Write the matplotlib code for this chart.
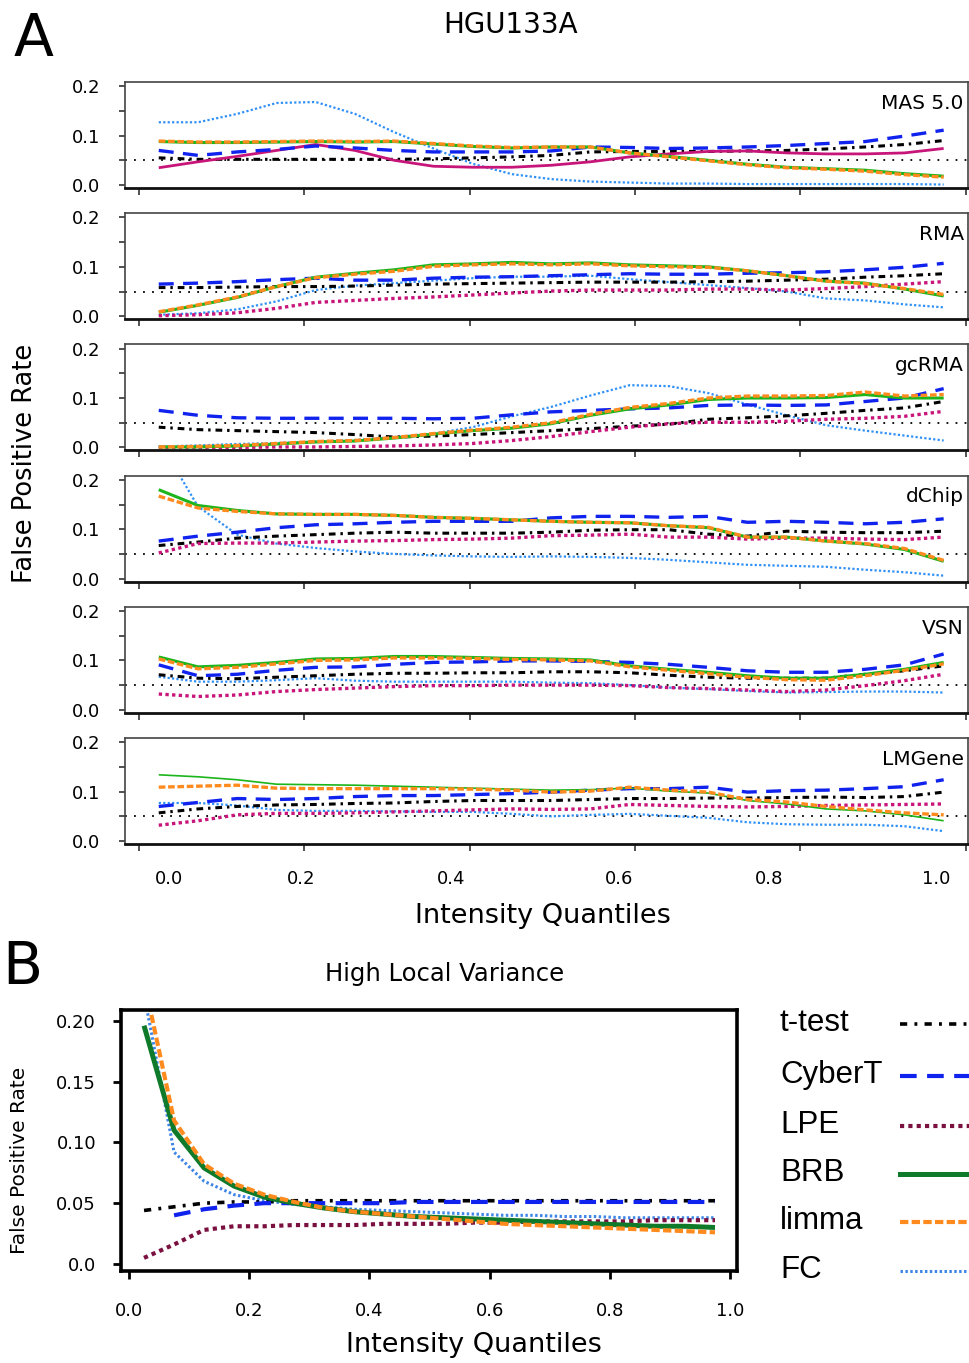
import numpy as np
import matplotlib
matplotlib.use("Agg")
import matplotlib.pyplot as plt
from matplotlib.lines import Line2D

W, H = 969, 1363
fig = plt.figure(figsize=(W / 100, H / 100), dpi=100)
plt.rcParams['font.family'] = ['DejaVu Sans']

# ---------------- data ----------------
quantiles_a = [0.00, 0.05, 0.10, 0.15, 0.20, 0.25, 0.30, 0.35, 0.40, 0.45, 0.50,
               0.55, 0.60, 0.65, 0.70, 0.75, 0.80, 0.85, 0.90, 0.95, 1.00]
quantiles_b = [0.025, 0.075, 0.125, 0.175, 0.225, 0.275, 0.325, 0.375, 0.425, 0.475,
               0.525, 0.575, 0.625, 0.675, 0.725, 0.775, 0.825, 0.875, 0.925, 0.975]
methods = ["t-test", "CyberT", "LPE", "BRB", "limma", "FC"]
panel_names = ["MAS 5.0", "RMA", "gcRMA", "dChip", "VSN", "LMGene"]

mas = {
    "t-test": [.055, .052, .052, .052, .052, .052, .052, .053, .055, .057, .060, .067, .068, .068, .068, .069, .070, .073, .077, .082, .090],
    "CyberT": [.070, .060, .067, .072, .079, .075, .070, .067, .067, .067, .069, .077, .076, .074, .075, .077, .080, .084, .088, .099, .111],
    "LPE":    [.035, .047, .058, .070, .082, .070, .050, .038, .036, .036, .040, .047, .057, .063, .068, .069, .065, .063, .063, .065, .074],
    "BRB":    [.088, .086, .086, .087, .088, .087, .088, .083, .078, .075, .077, .077, .065, .058, .050, .042, .036, .033, .030, .023, .018],
    "limma":  [.089, .087, .087, .088, .089, .088, .089, .084, .079, .076, .077, .077, .065, .057, .049, .041, .035, .032, .028, .021, .016],
    "FC":     [.127, .127, .144, .166, .168, .144, .107, .074, .043, .022, .012, .007, .005, .003, .003, .002, .002, .002, .002, .002, .001],
}
rma = {
    "t-test": [.058, .058, .059, .060, .060, .061, .063, .065, .066, .067, .068, .069, .069, .069, .070, .071, .073, .075, .079, .082, .086],
    "CyberT": [.065, .067, .070, .074, .077, .073, .073, .077, .079, .080, .082, .084, .086, .085, .085, .087, .088, .090, .094, .099, .107],
    "LPE":    [.001, .003, .007, .016, .028, .032, .036, .039, .043, .047, .051, .053, .053, .053, .055, .055, .053, .056, .060, .065, .070],
    "BRB":    [.008, .022, .038, .060, .079, .087, .094, .104, .106, .109, .106, .108, .104, .102, .100, .092, .082, .071, .067, .055, .041],
    "limma":  [.009, .023, .039, .060, .078, .085, .091, .101, .104, .106, .104, .106, .102, .100, .099, .092, .082, .071, .066, .056, .044],
    "FC":     [.003, .006, .014, .030, .053, .062, .067, .072, .077, .080, .080, .082, .075, .069, .063, .057, .050, .036, .032, .024, .018],
}
gcrma = {
    "t-test": [.041, .036, .034, .032, .030, .026, .021, .023, .026, .030, .034, .038, .043, .047, .057, .060, .064, .069, .075, .080, .093],
    "CyberT": [.075, .065, .060, .059, .059, .059, .059, .058, .059, .066, .072, .075, .078, .080, .085, .086, .085, .086, .093, .100, .119],
    "LPE":    [.000, .000, .000, .001, .001, .002, .003, .005, .008, .014, .022, .032, .041, .048, .051, .051, .053, .057, .059, .063, .073],
    "BRB":    [.001, .001, .003, .007, .011, .013, .019, .027, .034, .039, .048, .065, .078, .086, .097, .100, .100, .101, .107, .100, .100],
    "limma":  [.001, .002, .004, .008, .012, .014, .020, .028, .035, .041, .050, .067, .081, .089, .100, .104, .104, .105, .112, .104, .107],
    "FC":     [.002, .004, .007, .009, .012, .015, .021, .028, .041, .063, .082, .105, .126, .124, .110, .087, .065, .045, .034, .024, .014],
}
dchip = {
    "t-test": [.067, .074, .082, .086, .089, .092, .094, .092, .092, .092, .094, .098, .099, .099, .090, .086, .096, .094, .093, .093, .096],
    "CyberT": [.076, .086, .094, .103, .109, .111, .114, .116, .116, .116, .123, .126, .126, .124, .126, .114, .116, .114, .111, .114, .121],
    "LPE":    [.052, .071, .072, .072, .074, .076, .077, .079, .080, .082, .087, .088, .090, .084, .084, .080, .082, .082, .080, .079, .084],
    "BRB":    [.180, .148, .138, .131, .130, .130, .128, .124, .122, .119, .116, .114, .113, .107, .103, .084, .084, .076, .070, .059, .035],
    "limma":  [.167, .143, .136, .131, .130, .130, .128, .124, .122, .119, .116, .114, .113, .107, .104, .084, .084, .076, .071, .061, .037],
    "FC":     [.280, .146, .089, .071, .062, .055, .050, .047, .045, .044, .045, .044, .042, .038, .033, .028, .026, .024, .018, .013, .006],
}
vsn = {
    "t-test": [.071, .064, .063, .066, .069, .072, .074, .074, .075, .075, .077, .077, .075, .070, .066, .064, .064, .064, .072, .079, .089],
    "CyberT": [.091, .069, .072, .080, .086, .087, .092, .096, .097, .099, .099, .098, .096, .092, .086, .079, .076, .076, .082, .091, .113],
    "LPE":    [.032, .027, .030, .037, .041, .044, .047, .049, .049, .050, .050, .050, .049, .045, .043, .040, .037, .040, .049, .059, .072],
    "BRB":    [.107, .087, .090, .096, .103, .104, .108, .108, .106, .104, .103, .101, .089, .082, .076, .069, .064, .064, .072, .082, .096],
    "limma":  [.103, .083, .086, .093, .100, .101, .105, .105, .104, .102, .101, .099, .087, .080, .073, .066, .061, .060, .069, .080, .093],
    "FC":     [.067, .057, .057, .060, .064, .059, .057, .057, .057, .057, .055, .054, .050, .045, .042, .038, .035, .036, .037, .037, .035],
}
lmgene = {
    "t-test": [.057, .065, .070, .073, .074, .076, .077, .080, .082, .082, .082, .084, .086, .086, .087, .087, .088, .089, .088, .090, .099],
    "CyberT": [.070, .078, .086, .084, .086, .090, .092, .092, .094, .096, .099, .103, .106, .106, .109, .099, .102, .103, .106, .110, .124],
    "LPE":    [.032, .041, .053, .056, .056, .057, .059, .061, .063, .065, .064, .065, .074, .072, .070, .069, .070, .072, .073, .074, .075],
    "BRB":    [.134, .130, .124, .115, .114, .113, .111, .109, .107, .105, .103, .104, .107, .101, .097, .082, .075, .065, .061, .053, .041],
    "limma":  [.109, .111, .113, .107, .106, .106, .106, .106, .105, .103, .099, .101, .109, .103, .099, .084, .079, .070, .063, .057, .053],
    "FC":     [.077, .077, .072, .063, .061, .061, .060, .059, .059, .055, .050, .053, .055, .051, .047, .038, .034, .033, .033, .030, .020],
}
panels = [mas, rma, gcrma, dchip, vsn, lmgene]

high_var = {
    "t-test": [.044, .047, .050, .051, .051, .052, .052, .052, .052, .052, .052, .052, .052, .052, .052, .052, .052, .052, .052, .052],
    "CyberT": [np.nan, .040, .045, .048, .050, .050, .050, .050, .050, .051, .051, .051, .051, .051, .051, .051, .051, .051, .051, .051],
    "LPE":    [.005, .016, .028, .031, .031, .032, .032, .032, .033, .033, .033, .034, .034, .035, .035, .035, .035, .036, .036, .036],
    "BRB":    [.196, .110, .079, .064, .055, .050, .046, .043, .041, .039, .038, .037, .036, .035, .034, .033, .032, .031, .031, .030],
    "limma":  [.233, .118, .082, .066, .057, .051, .046, .043, .041, .039, .037, .035, .033, .032, .031, .030, .029, .028, .027, .026],
    "FC":     [.222, .092, .068, .057, .052, .049, .047, .045, .044, .043, .042, .041, .040, .040, .039, .039, .038, .038, .038, .038],
}

a_ytick_labels = ["0.0", "", "0.1", "", "0.2"]
a_xtick_labels = ["0.0", "0.2", "0.4", "0.6", "0.8", "1.0"]
b_ytick_labels = ["0.0", "0.05", "0.10", "0.15", "0.20"]
b_xtick_labels = ["0.0", "0.2", "0.4", "0.6", "0.8", "1.0"]

# ---------------- styles ----------------
style_a = {
    "t-test": dict(color="black", lw=2.2, ls=(0, (2.2, 1.6, 0.8, 1.6))),
    "CyberT": dict(color="#1022ee", lw=2.4, ls=(0, (4.5, 2.8))),
    "LPE":    dict(color="#c8157a", lw=2.4, ls=(0, (1, 1))),
    "BRB":    dict(color="#1cb51c", lw=2.2, ls="-"),
    "limma":  dict(color="#ff8a1e", lw=2.4, ls=(0, (2, 0.8))),
    "FC":     dict(color="#2f90f5", lw=1.6, ls=(0, (1, 1))),
}
style_b = {
    "t-test": dict(color="black", lw=2.6, ls=(0, (2.0, 2.0, 0.8, 2.0))),
    "CyberT": dict(color="#1022ee", lw=3.0, ls=(0, (4.0, 2.5))),
    "LPE":    dict(color="#7a1040", lw=3.0, ls=(0, (1, 1))),
    "BRB":    dict(color="#0f7a2a", lw=3.6, ls="-"),
    "limma":  dict(color="#ff8a1e", lw=3.0, ls=(0, (2, 0.8))),
    "FC":     dict(color="#3f86e6", lw=2.2, ls=(0, (0.8, 0.8))),
}
draw_order = ["FC", "t-test", "LPE", "CyberT", "BRB", "limma"]

# ---------------- panel A ----------------
tick_marks_a = [-0.025, 0.185, 0.396, 0.607, 0.817, 1.028]
label_pos_a = [0.013, 0.182, 0.373, 0.586, 0.777, 0.991]
for k, (name, data) in enumerate(zip(panel_names, panels)):
    top = 82 + 131.2 * k
    ax = fig.add_axes([125 / W, 1 - (top + 106) / H, 843 / W, 106 / H])
    ax.axhline(0.05, color="black", lw=1.3, ls=(0, (1, 4)))
    for m in draw_order:
        st = dict(style_a[m])
        if name == "MAS 5.0" and m == "LPE":
            st["ls"] = "-"
            st["lw"] = 2.0
        if name == "LMGene" and m == "BRB":
            st["lw"] = 1.2
        ax.plot(quantiles_a, data[m], solid_capstyle="butt", dash_capstyle="butt", **st)
    ax.set_xlim(-0.043, 1.031)
    ax.set_ylim(-0.006, 0.2085)
    ax.set_yticks([0, 0.05, 0.1, 0.15, 0.2])
    ax.set_yticklabels(a_ytick_labels)
    ax.set_xticks(tick_marks_a)
    ax.set_xticklabels([])
    ax.tick_params(axis="y", direction="out", length=4, width=1.2, labelsize=13, pad=14, colors="#333333", labelcolor="black")
    ax.tick_params(axis="x", which="major", direction="out", length=5, width=1.2, colors="#333333")
    if k == len(panels) - 1:
        ax.set_xticks(label_pos_a, minor=True)
        ax.set_xticklabels(a_xtick_labels, minor=True)
        ax.tick_params(axis="x", which="minor", length=0, labelsize=13, pad=19)
    for s in ["top", "left", "right"]:
        ax.spines[s].set_color("#444444")
        ax.spines[s].set_linewidth(1.2)
    ax.spines["bottom"].set_color("#111111")
    ax.spines["bottom"].set_linewidth(2.0)
    ax.text(0.995, 0.80, name, transform=ax.transAxes, ha="right", va="center", fontsize=14.5)

fig.text(511 / W, 1 - 25 / H, "HGU133A", ha="center", va="center", fontsize=20)
fig.text(33 / W, 1 - 40 / H, "A", ha="center", va="center", fontsize=42)
fig.text(25 / W, 1 - 463 / H, "False Positive Rate", rotation=90, ha="center", va="center", fontsize=18.5)
fig.text(543 / W, 1 - 916 / H, "Intensity Quantiles", ha="center", va="center", fontsize=19.5)

# ---------------- panel B ----------------
axb = fig.add_axes([121 / W, 1 - 1271 / H, 616 / W, 261 / H])
for m in draw_order:
    axb.plot(quantiles_b, high_var[m], solid_capstyle="butt", dash_capstyle="butt", **style_b[m])
axb.set_xlim(-0.0133, 1.0116)
axb.set_ylim(-0.0058, 0.2089)
axb.set_xticks([0, 0.2, 0.4, 0.6, 0.8, 1.0])
axb.set_xticklabels(b_xtick_labels)
axb.set_yticks([0, 0.05, 0.1, 0.15, 0.2])
axb.set_yticklabels(b_ytick_labels)
axb.tick_params(axis="y", direction="out", length=6, width=2, labelsize=13, pad=12)
axb.tick_params(axis="x", direction="out", length=6, width=2, labelsize=13, pad=16)
for s in axb.spines.values():
    s.set_linewidth(2.6)
    s.set_color("black")

fig.text(22 / W, 1 - 968 / H, "B", ha="center", va="center", fontsize=42)
fig.text(445 / W, 1 - 974 / H, "High Local Variance", ha="center", va="center", fontsize=17.5)
fig.text(20 / W, 1 - 1160 / H, "False Positive Rate", rotation=90, ha="center", va="center", fontsize=14.5)
fig.text(474 / W, 1 - 1345 / H, "Intensity Quantiles", ha="center", va="center", fontsize=19.5)

# ---------------- legend for B ----------------
legend_rows = [1023, 1075, 1125, 1173, 1221, 1270]
for m, y in zip(methods, legend_rows):
    fig.text(780 / W, 1 - y / H, m, ha="left", va="center", fontsize=22.5, family="Liberation Sans")
    st = style_b[m]
    fig.add_artist(Line2D([900 / W, 980 / W], [1 - (y + 1) / H] * 2, transform=fig.transFigure,
                          color=st["color"], lw=st["lw"], ls=st["ls"], dash_capstyle="butt"))

fig.savefig("out.png", dpi=100)
